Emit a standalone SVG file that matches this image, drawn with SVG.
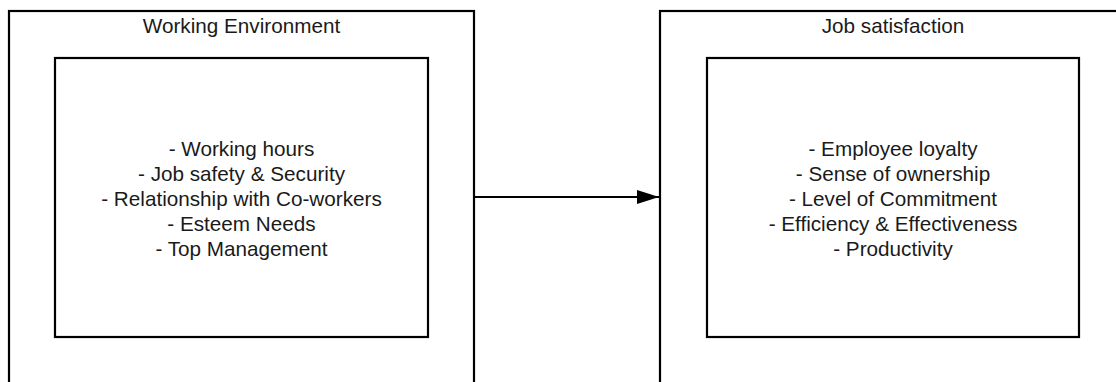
<svg xmlns="http://www.w3.org/2000/svg" width="1116" height="382" viewBox="0 0 1116 382">
<style>
.box{fill:none;stroke:#000;stroke-width:2.2}
.t{font-family:"Liberation Sans",Arial,sans-serif;font-size:20.7px;fill:#1a1a1a;text-anchor:middle}
.conn{stroke:#000;stroke-width:2;fill:none}
</style>
<defs>
<marker id="ah" markerWidth="22" markerHeight="14" refX="22" refY="7" orient="auto" markerUnits="userSpaceOnUse" viewBox="0 0 22 14">
<path d="M0,0 L22,7 L0,14 Z" fill="#000"/>
</marker>
</defs>
<rect width="1116" height="382" fill="#fff"/>
<g id="working-environment">
<rect class="box" x="9" y="11" width="465" height="400"/>
<text class="t" x="241.5" y="33">Working Environment</text>
</g>
<g id="working-environment-factors">
<rect class="box" x="55" y="58" width="373" height="279"/>
<text class="t" x="241.5" y="156">- Working hours</text>
<text class="t" x="241.5" y="181">- Job safety &amp; Security</text>
<text class="t" x="241.5" y="206">- Relationship with Co-workers</text>
<text class="t" x="241.5" y="231">- Esteem Needs</text>
<text class="t" x="241.5" y="256">- Top Management</text>
</g>
<g id="job-satisfaction">
<rect class="box" x="660" y="11" width="500" height="400"/>
<text class="t" x="893" y="33">Job satisfaction</text>
</g>
<g id="job-satisfaction-outcomes">
<rect class="box" x="707" y="58" width="372" height="279"/>
<text class="t" x="893" y="156">- Employee loyalty</text>
<text class="t" x="893" y="181">- Sense of ownership</text>
<text class="t" x="893" y="206">- Level of Commitment</text>
<text class="t" x="893" y="231">- Efficiency &amp; Effectiveness</text>
<text class="t" x="893" y="256">- Productivity</text>
</g>
<g id="connectors">
<line class="conn" x1="475" y1="197" x2="659" y2="197" marker-end="url(#ah)"/>
</g>
</svg>
